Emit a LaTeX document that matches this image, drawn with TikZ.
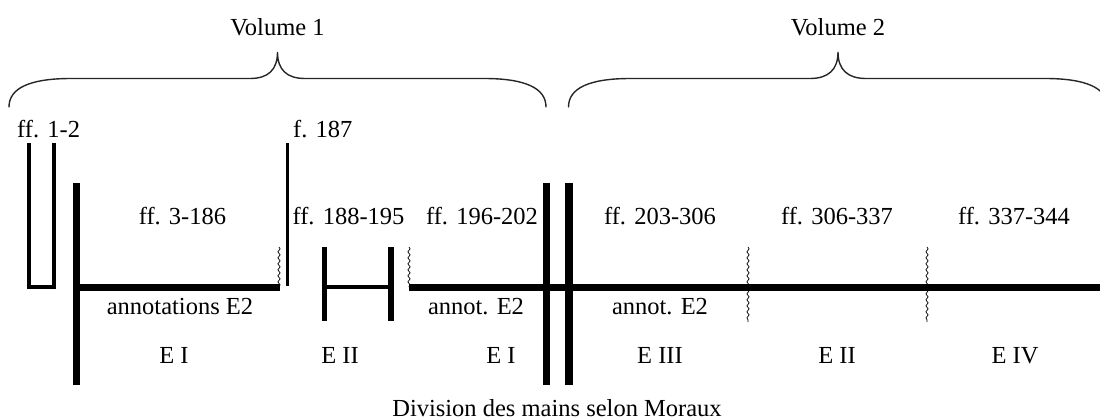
\documentclass[tikz,border=0pt]{standalone}
\usepackage{fontspec}
\setmainfont{Liberation Serif}
\usetikzlibrary{decorations.pathmorphing}
\begin{document}
\begin{tikzpicture}[x=1pt,y=-1pt,
  lbl/.style={anchor=base,inner sep=0pt,font=\fontsize{24.5}{29}\selectfont},
  bracepath/.style={line width=1.4pt,draw=black!85,line cap=round},
  heavybar/.style={line width=7.5pt},
  mainline/.style={line width=7pt},
  thinbar/.style={line width=3pt},
  foldline/.style={line width=4pt,line join=miter},
  cutmark/.style={line width=0.7pt,decorate,decoration={snake,segment length=6pt,amplitude=1.1pt}}]
\useasboundingbox (0,0) rectangle (1100,420);

% volume braces
\draw[bracepath] (9,107) .. controls (9,88) and (30,78.5) .. (71,78.5) -- (250,78.5)
  .. controls (268,78.5) and (277.5,70) .. (277.5,52)
  .. controls (277.5,70) and (287,78.5) .. (305,78.5) -- (484,78.5)
  .. controls (525,78.5) and (546,88) .. (546,107);
\draw[bracepath] (568.5,107) .. controls (568.5,88) and (589.5,78.5) .. (630.5,78.5) -- (810,78.5)
  .. controls (828,78.5) and (838,70) .. (838,52)
  .. controls (838,70) and (848,78.5) .. (866,78.5) -- (1045,78.5)
  .. controls (1086,78.5) and (1107.5,88) .. (1107.5,107);
\node[lbl] (vol1) at (277.5,36) {Volume 1};
\node[lbl] (vol2) at (838,36) {Volume 2};

% ff. 1-2: folded bifolium
\draw[foldline] (29,143) -- (29,287) -- (53.5,287) -- (53.5,143);
\node[lbl,anchor=base west] (f12) at (17,137) {ff. 1-2};

% E I, ff. 3-186
\coordinate (eiTop) at (76.5,183);
\coordinate (eiBot) at (76.5,385);
\draw[heavybar] (eiTop) -- (eiBot);
\coordinate (l1a) at (76.5,287);
\coordinate (l1b) at (280,287);
\draw[mainline] (l1a) -- (l1b);
\draw[cutmark] (279,247) -- (279,287);

% f. 187
\draw[thinbar] (287.5,143) -- (287.5,286);
\node[lbl,anchor=base west] (f187) at (293,137) {f. 187};

% E II, ff. 188-195
\draw[line width=5.5pt] (324.5,247) -- (324.5,321);
\draw[line width=5.5pt] (391,247) -- (391,321);
\draw[line width=4pt] (324.5,286.5) -- (391,286.5);

% main line from f. 196 to the end
\draw[cutmark] (409,247) -- (409,287);
\coordinate (l2a) at (409,287);
\coordinate (l2b) at (1100,287);
\draw[mainline] (l2a) -- (l2b);

% volume division
\draw[heavybar] (546.5,183) -- (546.5,385);
\draw[heavybar] (569,183) -- (569,385);

% hand changes in volume 2
\draw[cutmark] (748,247) -- (748,322);
\draw[cutmark] (927,247) -- (927,322);

% folio ranges
\node[lbl] (r1) at (182.5,224) {ff. 3-186};
\node[lbl] (r2) at (348.5,224) {ff. 188-195};
\node[lbl] (r3) at (482,224) {ff. 196-202};
\node[lbl] (r4) at (660,224) {ff. 203-306};
\node[lbl] (r5) at (837,224) {ff. 306-337};
\node[lbl] (r6) at (1014,224) {ff. 337-344};

% annotations
\node[lbl] (a1) at (180,314) {annotations E2};
\node[lbl] (a2) at (476,314) {annot. E2};
\node[lbl] (a3) at (660,314) {annot. E2};

% scribes
\node[lbl] (s1) at (174,363) {E I};
\node[lbl] (s2) at (340,363) {E II};
\node[lbl] (s3) at (501,363) {E I};
\node[lbl] (s4) at (660,363) {E III};
\node[lbl] (s5) at (837,363) {E II};
\node[lbl] (s6) at (1015,363) {E IV};

\node[lbl] (cap) at (557,416) {Division des mains selon Moraux};
\end{tikzpicture}
\end{document}
